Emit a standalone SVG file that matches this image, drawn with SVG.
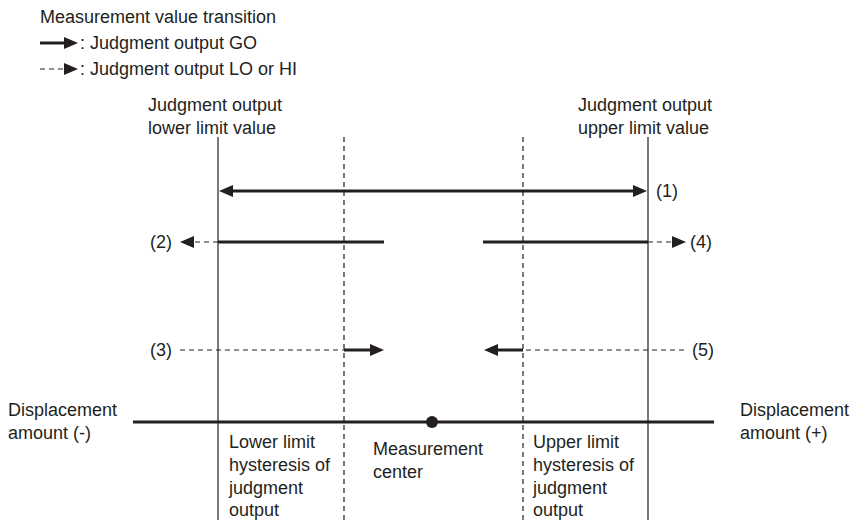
<svg xmlns="http://www.w3.org/2000/svg" width="857" height="520" viewBox="0 0 857 520">
<style>
text{font-family:"Liberation Sans",Arial,sans-serif;font-size:18px;fill:#231f20}
.s{stroke:#231f20;stroke-width:1.2;fill:none}
.d{stroke:#231f20;stroke-width:1.2;fill:none;stroke-dasharray:5 4}
.t{stroke:#231f20;stroke-width:3;fill:none}
.h{fill:#231f20}
</style>
<rect width="857" height="520" fill="#fff"/>
<g id="legend">
<text x="40" y="23">Measurement value transition</text>
<line class="t" x1="40" y1="43" x2="66" y2="43"/>
<polygon class="h" points="78,43 64,37 64,49"/>
<text x="80" y="49">: Judgment output GO</text>
<line class="d" x1="40" y1="69" x2="66" y2="69"/>
<polygon class="h" points="78,69 64,63 64,75"/>
<text x="80" y="75">: Judgment output LO or HI</text>
</g>
<g id="lower-limit">
<line class="s" x1="218" y1="137" x2="218" y2="520"/>
<text x="148" y="111">Judgment output</text>
<text x="148" y="134">lower limit value</text>
</g>
<g id="upper-limit">
<line class="s" x1="648" y1="137" x2="648" y2="520"/>
<text x="578" y="111">Judgment output</text>
<text x="578" y="134">upper limit value</text>
</g>
<g id="lower-hysteresis">
<line class="d" x1="344" y1="137" x2="344" y2="520"/>
<text x="229" y="448">Lower limit</text>
<text x="229" y="471">hysteresis of</text>
<text x="229" y="494">judgment</text>
<text x="229" y="516">output</text>
</g>
<g id="upper-hysteresis">
<line class="d" x1="523" y1="137" x2="523" y2="520"/>
<text x="533" y="448">Upper limit</text>
<text x="533" y="471">hysteresis of</text>
<text x="533" y="494">judgment</text>
<text x="533" y="516">output</text>
</g>
<g id="axis">
<line class="t" x1="133" y1="422" x2="714" y2="422"/>
<text x="8" y="416">Displacement</text>
<text x="8" y="439">amount (-)</text>
<text x="740" y="416">Displacement</text>
<text x="740" y="439">amount (+)</text>
</g>
<g id="center">
<circle cx="432" cy="422" r="6" class="h"/>
<text x="373" y="455">Measurement</text>
<text x="373" y="478">center</text>
</g>
<g id="connectors">
<line class="t" x1="230" y1="191" x2="636" y2="191"/>
<polygon class="h" points="219,191 233,185 233,197"/>
<polygon class="h" points="647,191 633,185 633,197"/>
<text x="656" y="197">(1)</text>
<line class="t" x1="218" y1="242" x2="384" y2="242"/>
<line class="d" x1="218" y1="242" x2="192" y2="242"/>
<polygon class="h" points="180,242 194,236 194,248"/>
<text x="150" y="248">(2)</text>
<line class="t" x1="483" y1="242" x2="648" y2="242"/>
<line class="d" x1="648" y1="242" x2="674" y2="242"/>
<polygon class="h" points="686,242 672,236 672,248"/>
<text x="690" y="248">(4)</text>
<line class="d" x1="180" y1="350" x2="344" y2="350"/>
<line class="t" x1="344" y1="350" x2="372" y2="350"/>
<polygon class="h" points="384,350 370,344 370,356"/>
<text x="150" y="356">(3)</text>
<line class="d" x1="684" y1="350" x2="523" y2="350"/>
<line class="t" x1="523" y1="350" x2="496" y2="350"/>
<polygon class="h" points="484,350 498,344 498,356"/>
<text x="692" y="356">(5)</text>
</g>
</svg>
